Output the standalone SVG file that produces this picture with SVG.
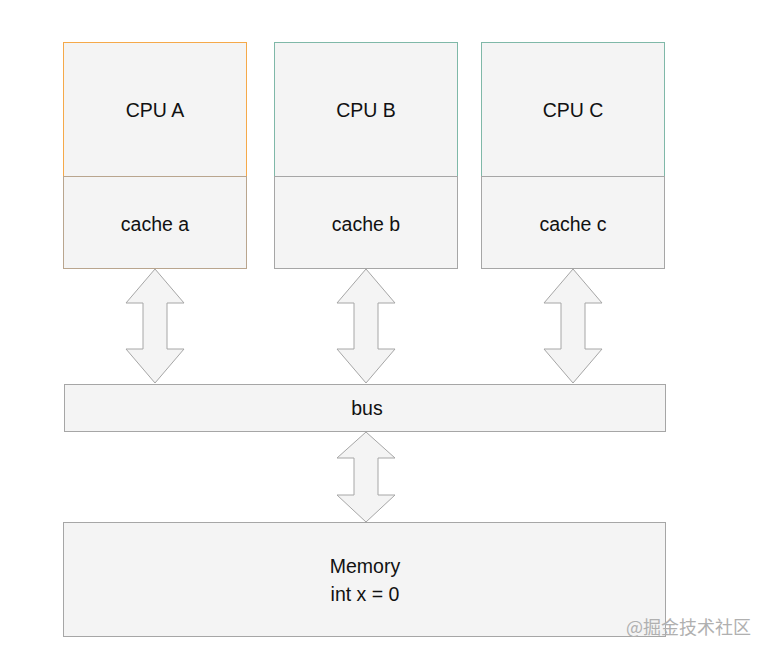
<svg xmlns="http://www.w3.org/2000/svg" width="769" height="655" viewBox="0 0 769 655">
<style>
.box{fill:#f4f4f4;stroke:#a6a6a6;stroke-width:1}
.arr{fill:#f4f4f4;stroke:#a6a6a6;stroke-width:1;stroke-linejoin:miter}
text{font-family:"Liberation Sans",Arial,sans-serif;font-size:19.5px;fill:#111;text-anchor:middle}
.wm{font-family:"Noto Sans CJK SC","Liberation Sans",sans-serif;font-size:18px;fill:#b0b0b0;text-anchor:start}
</style>
<rect width="769" height="655" fill="#fff"/>
<g id="cpuA">
<rect x="63.5" y="42.5" width="183" height="134" class="box" style="stroke:#f5a94a"/>
<text x="155" y="117">CPU A</text>
</g>
<g id="cacheA">
<rect x="63.5" y="176.5" width="183" height="92" class="box" style="stroke:#b9a58e"/>
<text x="155" y="231">cache a</text>
</g>
<g id="cpuB">
<rect x="274.5" y="42.5" width="183" height="134" class="box" style="stroke:#7fb8a8"/>
<text x="366" y="117">CPU B</text>
</g>
<g id="cacheB">
<rect x="274.5" y="176.5" width="183" height="92" class="box"/>
<text x="366" y="231">cache b</text>
</g>
<g id="cpuC">
<rect x="481.5" y="42.5" width="183" height="134" class="box" style="stroke:#7fb8a8"/>
<text x="573" y="117">CPU C</text>
</g>
<g id="cacheC">
<rect x="481.5" y="176.5" width="183" height="92" class="box"/>
<text x="573" y="231">cache c</text>
</g>
<g id="bus">
<rect x="64.5" y="384.5" width="601" height="47" class="box"/>
<text x="367" y="415">bus</text>
</g>
<g id="memory">
<rect x="63.5" y="522.5" width="602" height="114" class="box"/>
<text x="365" y="573">Memory</text>
<text x="365" y="601">int x = 0</text>
</g>
<g id="connectors">
<path class="arr" d="M155,269 L184,303 L167,303 L167,349 L184,349 L155,383 L126,349 L143,349 L143,303 L126,303 Z"/>
<path class="arr" d="M366,269 L395,303 L378,303 L378,349 L395,349 L366,383 L337,349 L354,349 L354,303 L337,303 Z"/>
<path class="arr" d="M573,269 L602,303 L585,303 L585,349 L602,349 L573,383 L544,349 L561,349 L561,303 L544,303 Z"/>
<path class="arr" d="M366,432 L395,458 L378,458 L378,495 L395,495 L366,522 L337,495 L354,495 L354,458 L337,458 Z"/>
</g>
<text class="wm" x="626" y="634">@掘金技术社区</text>
</svg>
